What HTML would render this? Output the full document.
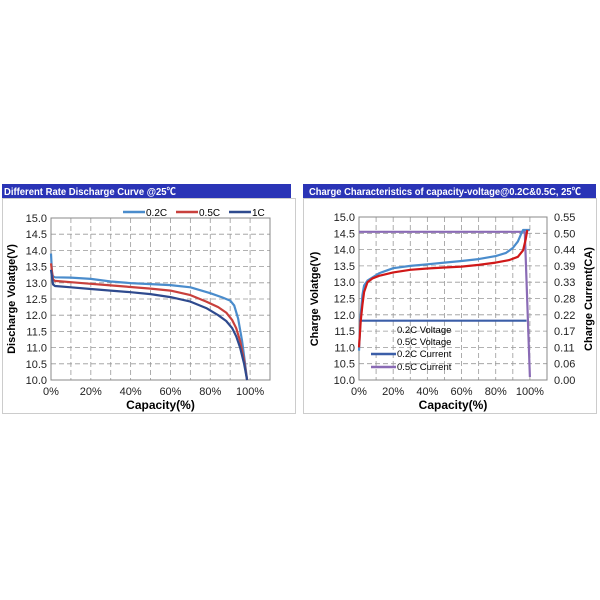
<!DOCTYPE html>
<html><head><meta charset="utf-8"><style>
body{margin:0;background:#fff;width:600px;height:600px;overflow:hidden}
svg{display:block;font-family:"Liberation Sans","Noto Sans CJK SC",sans-serif}
</style></head><body>
<svg id="s" width="600" height="600">
<rect x="2" y="184" width="289" height="14" fill="#2a34b6"/>
<text x="4" y="195" font-size="10" font-weight="bold" fill="#fff" textLength="172" lengthAdjust="spacingAndGlyphs">Different Rate Discharge Curve @25℃</text>
<rect x="2.5" y="198.5" width="293" height="215" fill="#fff" stroke="#ccc"/>
<rect x="303" y="184" width="293" height="14" fill="#2a34b6"/>
<text x="309" y="195" font-size="10" font-weight="bold" fill="#fff" textLength="272" lengthAdjust="spacingAndGlyphs">Charge  Characteristics of capacity-voltage@0.2C&amp;0.5C, 25℃</text>
<rect x="303.5" y="198.5" width="293" height="215" fill="#fff" stroke="#ccc"/>
<g id="g"></g>
</svg>
<script>
const xTicks=[0,20,40,60,80,100];
const yTicks=[10,10.5,11,11.5,12,12.5,13,13.5,14,14.5,15];
const curTicks=["0.00","0.06","0.11","0.17","0.22","0.28","0.33","0.39","0.44","0.50","0.55"];
const dis02=[[0,13.9],[0.5,13.3],[1,13.2],[2,13.17],[10,13.16],[20,13.12],[30,13.04],[40,12.99],[50,12.96],[60,12.93],[70,12.86],[80,12.68],[86,12.55],[90,12.45],[92,12.3],[94,11.9],[96,11.2],[97.5,10.5],[98.5,10.0]];
const dis05=[[0,13.6],[1,13.1],[2,13.06],[10,13.02],[20,12.97],[30,12.92],[40,12.87],[50,12.82],[60,12.76],[70,12.62],[78,12.42],[84,12.25],[88,12.08],[91,11.85],[93,11.6],[95,11.2],[97,10.6],[98.5,10.0]];
const dis1=[[0,13.4],[1,12.95],[2,12.9],[10,12.86],[20,12.81],[30,12.76],[40,12.71],[50,12.65],[60,12.56],[70,12.42],[78,12.22],[84,12.0],[88,11.82],[91,11.6],[93,11.35],[95,11.0],[97,10.5],[98.5,10.0]];
const chg02=[[0,10.9],[1,12.0],[2,12.6],[3,12.9],[5,13.05],[8,13.15],[12,13.28],[20,13.43],[30,13.5],[40,13.55],[50,13.6],[60,13.65],[70,13.71],[80,13.8],[86,13.9],[90,14.05],[93,14.25],[95,14.5],[96,14.6],[100,14.6]];
const chg05=[[0,11.0],[1,11.8],[2,12.3],[3,12.7],[5,13.0],[8,13.12],[12,13.2],[20,13.3],[30,13.38],[40,13.42],[50,13.45],[60,13.48],[70,13.53],[80,13.6],[88,13.68],[93,13.78],[96,13.98],[97.5,14.3],[98.5,14.6]];
const cur02=[[0,0.2],[98,0.2]];
const cur05=[[0,0.5],[97,0.5],[100,0.01]];
const NS="http://www.w3.org/2000/svg",G=document.getElementById('g');
function el(t,a,txt){const e=document.createElementNS(NS,t);for(const k in a)e.setAttribute(k,a[k]);if(txt!=null)e.textContent=txt;G.appendChild(e);return e;}
function chart(px0,px1,py0,py1,pre){
 const X=v=>px0+(px1-px0)*v/110, Y=v=>py1-(py1-py0)*(v-10)/5;
 for(let i=0;i<=11;i++){const e=el('line',{x1:X(i*10),x2:X(i*10),y1:py0,y2:py1,stroke:'#999','stroke-dasharray':'5,3','stroke-width':0.8});
 }
 yTicks.forEach(v=>{const e=el('line',{x1:px0,x2:px1,y1:Y(v),y2:Y(v),stroke:'#999','stroke-dasharray':'5,3','stroke-width':0.8});
 
 const t=el('text',{x:px0-4,y:Y(v)+4,'font-size':11,'text-anchor':'end',fill:'#222'},v.toFixed(1));
 });
 xTicks.forEach(v=>{const t=el('text',{x:X(v),y:py1+15,'font-size':11,'text-anchor':'middle',fill:'#222'},v+'%');
 });
 const b=el('rect',{x:px0,y:py0,width:px1-px0,height:py1-py0,fill:'none',stroke:'#888'});
 
 const xt=el('text',{x:(px0+px1)/2,y:py1+29,'font-size':12,'font-weight':'bold','text-anchor':'middle'},'Capacity(%)');
 
 return {X,Y};
}
function line(ax,d,c,name,w){const p=d.map((q,i)=>(i?'L':'M')+ax.X(q[0]).toFixed(1)+' '+ax.Y(q[1]).toFixed(1)).join('');
 const e=el('path',{d:p,fill:'none',stroke:c,'stroke-width':w||2.2,'stroke-linejoin':'round'});
 }
const L=chart(51,270,218,380,'left');
let t=el('text',{x:0,y:0,'font-size':11,'font-weight':'bold','text-anchor':'middle',transform:'translate(15,299) rotate(-90)'},'Discharge Volatge(V)');

line(L,dis02,'#4a8ccc','series-0.2c');line(L,dis05,'#c8403c','series-0.5c');line(L,dis1,'#2e4a8e','series-1c');
[['0.2C','#4a8ccc',123],['0.5C','#c8403c',176],['1C','#2e4a8e',229]].forEach(l=>{
 const a=el('line',{x1:l[2],x2:l[2]+22,y1:212,y2:212,stroke:l[1],'stroke-width':2.5});
 const b=el('text',{x:l[2]+23,y:216,'font-size':10},l[0]);});
const R=chart(359,547,217,380,'right');
const RC=v=>R.Y(10+v/0.55*5);
curTicks.forEach((v,i)=>{const e=el('text',{x:554,y:R.Y(10+i*0.5)+4,'font-size':11,fill:'#222'},v);
 });
t=el('text',{x:0,y:0,'font-size':11,'font-weight':'bold','text-anchor':'middle',transform:'translate(318,299) rotate(-90)'},'Charge Volatge(V)');

t=el('text',{x:0,y:0,'font-size':11,'font-weight':'bold','text-anchor':'middle',transform:'translate(592,299) rotate(-90)'},'Charge Current(CA)');

const RA={X:R.X,Y:v=>RC(v)};
line(RA,cur02,'#3b5ea8','series-0.2c-current');line(RA,cur05,'#8a6bb5','series-0.5c-current');
line(R,chg02,'#4a8ccc','series-0.2c-voltage');line(R,chg05,'#d01818','series-0.5c-voltage');
[['0.2C Voltage',null,333],['0.5C Voltage',null,345],['0.2C Current','#3b5ea8',357],['0.5C Current','#8a6bb5',370]].forEach(l=>{
 if(l[1]){const a=el('line',{x1:371,x2:396,y1:l[2]-3,y2:l[2]-3,stroke:l[1],'stroke-width':2.5});}
 const b=el('text',{x:397,y:l[2],'font-size':9.5},l[0]);});
</script>
</body></html>
